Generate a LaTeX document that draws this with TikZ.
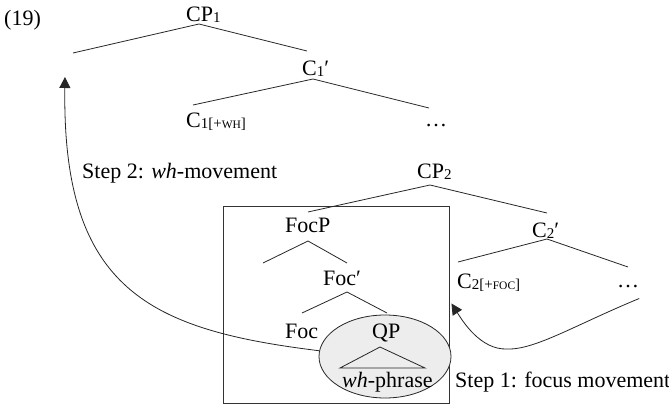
\documentclass[tikz,border=0pt]{standalone}
\usepackage{fontspec}
\setmainfont{Liberation Serif}
\usetikzlibrary{arrows.meta,calc,shapes.geometric}
% lowered subscript and fake small caps for feature labels
\newcommand{\lo}[1]{\raisebox{-1pt}{\fontsize{15}{15}\selectfont #1}}
\newcommand{\fsc}[1]{{\fontsize{11.5}{12}\selectfont #1}}
\begin{document}
\begin{tikzpicture}[x=1pt,y=-1pt,
  lbl/.style={anchor=base west,inner sep=0pt,font=\fontsize{22}{26}\selectfont},
  branch/.style={line width=0.8pt,black!85},
  move/.style={line width=0.8pt,black!85,-{Triangle[length=11pt,width=11pt]}}]
\useasboundingbox (0,0) rectangle (669,406);

% focus phrase box and the QP bubble
\node[draw,line width=0.9pt,black!80,minimum width=226pt,minimum height=197pt,inner sep=0pt] (box) at (336,304.5) {};
\node[ellipse,draw,line width=0.8pt,black!85,fill=black!7,minimum width=132pt,minimum height=83pt,inner sep=0pt] (qpcirc) at (385,356.5) {};

% labels
\node[lbl] (n19) at (4,26) {(19)};
\node[lbl] (cp1) at (186,22) {CP\lo{1}};
\node[lbl] (c1bar) at (302,76) {C\lo{1}′};
\node[lbl] (c1wh) at (186,128) {C\lo{1[+\fsc{WH}]}};
\node[lbl] (dots1) at (425,127) {…};
\node[lbl] (step2) at (82,179) {Step 2: \textit{wh}-movement};
\node[lbl] (cp2) at (417,179) {CP\lo{2}};
\node[lbl] (focp) at (285,233) {FocP};
\node[lbl] (c2bar) at (532,237) {C\lo{2}′};
\node[lbl] (focbar) at (323,285) {Foc′};
\node[lbl] (c2foc) at (457,288) {C\lo{2[+\fsc{FOC}]}};
\node[lbl] (dots2) at (617,287) {…};
\node[lbl] (foc) at (285,338) {Foc};
\node[lbl] (qp) at (372,338) {QP};
\node[lbl] (whp) at (342,387) {\textit{wh}-phrase};
\node[lbl] (step1) at (455,387) {Step 1: focus movement};

% branching points
\coordinate (cp1a) at (199,24);   \coordinate (spec1) at (73,53);   \coordinate (c1bart) at (307,51);
\coordinate (c1bara) at (313,79); \coordinate (c1wht) at (193,105); \coordinate (dots1t) at (429,108);
\coordinate (cp2a) at (430,185);  \coordinate (focpt) at (308,212); \coordinate (c2bart) at (547,213);
\coordinate (focpa) at (308,241); \coordinate (focpl) at (263,263); \coordinate (focbart) at (347,263);
\coordinate (c2bara) at (547,239);\coordinate (c2foct) at (458,262);\coordinate (dots2t) at (628,267);
\coordinate (focbara) at (347,292);\coordinate (foct) at (302,313); \coordinate (qpt) at (387,313);
\coordinate (tria) at (380,347);  \coordinate (tril) at (340,368);  \coordinate (trir) at (425,368);

% tree branches
\draw[branch] (spec1) -- (cp1a) -- (c1bart);
\draw[branch] (c1wht) -- (c1bara) -- (dots1t);
\draw[branch] (focpt) -- (cp2a) -- (c2bart);
\draw[branch] (focpl) -- (focpa) -- (focbart);
\draw[branch] (c2foct) -- (c2bara) -- (dots2t);
\draw[branch] (foct) -- (focbara) -- (qpt);
\draw[branch] (tril) -- (tria) -- (trir) -- cycle;

% movement arrows
\coordinate (wh-land) at (65,77);
\draw[move] (qpcirc.175) .. controls (150,330) and (62,290) .. (wh-land);
\coordinate (foc-src) at ($(dots2.south)+(11,11)$);
\coordinate (foc-low) at (507,349);
\draw[move] (foc-src) .. controls (575,325) and (535,350) .. (foc-low)
  .. controls (480,350) and (462,320) .. ($(box.east)+(2,-1)$);
\end{tikzpicture}
\end{document}
